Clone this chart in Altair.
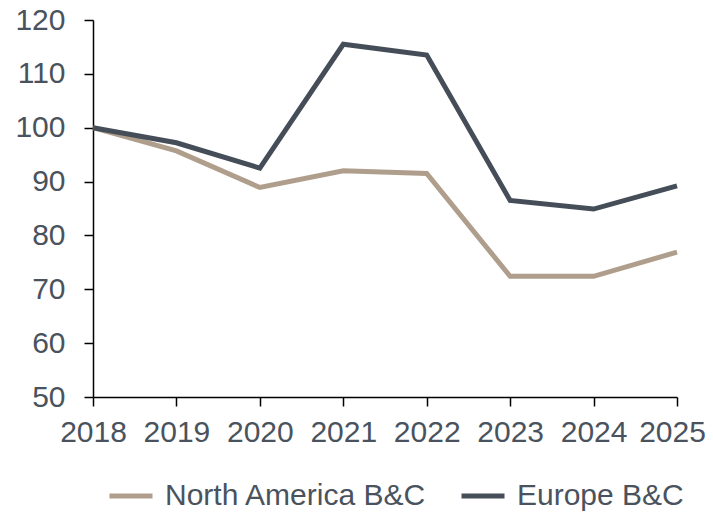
import altair as alt
import pandas as pd

years = ["2018", "2019", "2020", "2021", "2022", "2023", "2024", "2025"]
north_america = [100, 95.7, 88.9, 92.0, 91.5, 72.4, 72.4, 76.9]
europe = [100, 97.2, 92.5, 115.5, 113.5, 86.5, 84.9, 89.2]
series_names = ["North America B&C", "Europe B&C"]
series_colors = ["#b09e8c", "#454e58"]

rows = []
for name, vals in zip(series_names, [north_america, europe]):
    for y, v in zip(years, vals):
        rows.append({"year": y, "value": v, "series": name})
df = pd.DataFrame(rows)

font = "Liberation Sans"
txt = "#4a535d"
fs = 30

chart = alt.Chart(df).mark_line(strokeWidth=5, strokeJoin="miter").encode(
    x=alt.X("year:O", sort=years, scale=alt.Scale(padding=0),
            axis=alt.Axis(title=None, labelAngle=0, labelFontSize=fs, labelFont=font,
                          labelColor=txt, domainColor="black", tickColor="black",
                          tickSize=9, labelPadding=11, domainWidth=1.5, tickWidth=1.5,
                          labelOffset=alt.condition("datum.value == '2025'", alt.value(-5), alt.value(0)))),
    y=alt.Y("value:Q", scale=alt.Scale(domain=[50, 120], nice=False, zero=False),
            axis=alt.Axis(title=None, values=[50, 60, 70, 80, 90, 100, 110, 120],
                          grid=False, labelFontSize=fs, labelFont=font, labelColor=txt,
                          domainColor="black", tickColor="black", tickSize=9,
                          labelPadding=19, domainWidth=1.5, tickWidth=1.5)),
    color=alt.Color("series:N", sort=series_names,
                    scale=alt.Scale(domain=series_names, range=series_colors),
                    legend=alt.Legend(title=None, orient="none", direction="horizontal",
                                      legendX=14, legendY=452, padding=0,
                                      symbolSize=1849, labelLimit=400,
                                      symbolStrokeWidth=5, labelFontSize=fs,
                                      labelFont=font, labelColor=txt,
                                      columnPadding=24, labelOffset=10)),
).properties(
    width=584, height=377,
    autosize=alt.AutoSizeParams(type="none"),
    padding={"left": 85, "top": 12, "right": 28, "bottom": 115},
).configure_view(stroke=None)

chart.save("out.html", embed_options={"renderer": "svg", "actions": False})
